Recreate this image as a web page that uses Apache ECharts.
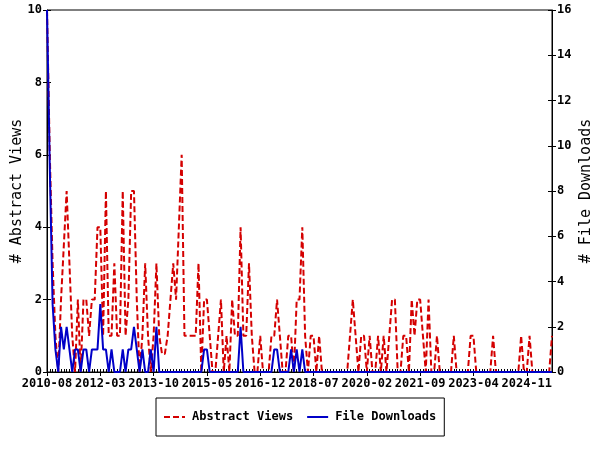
<!DOCTYPE html>
<html>
<head>
<meta charset="utf-8">
<script src="https://cdn.jsdelivr.net/npm/echarts@6/dist/echarts.min.js"></script>
<style>
html,body{margin:0;padding:0;background:#fff;}
#chart{width:600px;height:450px;}
</style>
</head>
<body>
<div id="chart"></div>
<script>
// Months from 2010-08 to 2025-08
var startYear = 2010, startMonth = 8, monthCount = 181;
var months = [];
for (var k = 0; k < monthCount; k++) {
  var m = startMonth - 1 + k;
  var y = startYear + Math.floor(m / 12);
  var mm = (m % 12) + 1;
  months.push(y + '-' + (mm < 10 ? '0' + mm : mm));
}

var abstractViews = [
  10, 6, 3, 1, 0, 2, 3.5, 5, 3, 1,
  0, 2, 0, 2, 2, 1, 2, 2, 4, 4,
  1, 5, 1, 1, 3, 1, 1, 5, 1, 2,
  5, 5, 2, 0, 1, 3, 1, 0, 1, 3,
  1, 0.5, 0.5, 1, 2, 3, 2, 4, 6, 1,
  1, 1, 1, 1, 3, 0, 2, 2, 1, 0,
  0, 1, 2, 0, 1, 0, 2, 1, 1, 4,
  1, 1, 3, 1, 0, 0, 1, 0, 0, 0,
  1, 1, 2, 1, 0, 0, 1, 1, 0, 2,
  2, 4, 1, 0, 1, 1, 0, 1, 0, 0,
  0, 0, 0, 0, 0, 0, 0, 0, 1, 2,
  1, 0, 1, 1, 0, 1, 0, 0, 1, 0,
  1, 0, 1, 2, 2, 0, 0, 1, 1, 0,
  2, 1, 2, 2, 1, 0, 2, 0, 0, 1,
  0, 0, 0, 0, 0, 1, 0, 0, 0, 0,
  0, 1, 1, 0, 0, 0, 0, 0, 0, 1,
  0, 0, 0, 0, 0, 0, 0, 0, 0, 1,
  0, 0, 1, 0, 0, 0, 0, 0, 0, 0,
  1
];

var fileDownloads = [
  16, 9, 3, 1, 0, 2, 1, 2, 1, 0,
  1, 1, 0, 1, 1, 0, 1, 1, 1, 3,
  1, 1, 0, 1, 0, 0, 0, 1, 0, 1,
  1, 2, 1, 0, 1, 0, 0, 1, 0, 2,
  0, 0, 0, 0, 0, 0, 0, 0, 0, 0,
  0, 0, 0, 0, 0, 0, 1, 1, 0, 0,
  0, 0, 0, 0, 0, 0, 0, 0, 0, 2,
  0, 0, 0, 0, 0, 0, 0, 0, 0, 0,
  0, 1, 1, 0, 0, 0, 0, 1, 0, 1,
  0, 1, 0, 0, 0, 0, 0, 0, 0, 0,
  0, 0, 0, 0, 0, 0, 0, 0, 0, 0,
  0, 0, 0, 0, 0, 0, 0, 0, 0, 0,
  0, 0, 0, 0, 0, 0, 0, 0, 0, 0,
  0, 0, 0, 0, 0, 0, 0, 0, 0, 0,
  0, 0, 0, 0, 0, 0, 0, 0, 0, 0,
  0, 0, 0, 0, 0, 0, 0, 0, 0, 0,
  0, 0, 0, 0, 0, 0, 0, 0, 0, 0,
  0, 0, 0, 0, 0, 0, 0, 0, 0, 0,
  0
];

var leftTicks = { min: 0, max: 10, interval: 2 };
var rightTicks = { min: 0, max: 16, interval: 2 };
var labelEvery = 19;

var MONO = '"DejaVu Sans Mono", "Liberation Mono", monospace';
var labelFont = { color: '#000', fontFamily: MONO, fontWeight: 'bold', fontSize: 12 };

var chart = echarts.init(document.getElementById('chart'), null, { renderer: 'canvas' });
chart.setOption({
  animation: false,
  backgroundColor: '#fff',
  grid: {
    left: 47, right: 48, top: 10, bottom: 78,
    containLabel: false, outerBoundsMode: 'none',
    show: true, borderColor: '#000', borderWidth: 1, backgroundColor: 'transparent'
  },
  legend: {
    left: 156, top: 398,
    padding: [13, 8, 13, 7],
    borderColor: '#000', borderWidth: 1,
    itemWidth: 21, itemHeight: 12, itemGap: 13,
    itemStyle: { color: 'rgba(0,0,0,0)', borderColor: 'rgba(0,0,0,0)', borderWidth: 0 },
    textStyle: { color: '#000', fontFamily: MONO, fontWeight: 'bold', fontSize: 12, padding: [0, 0, 0, 2] },
    data: ['Abstract Views', 'File Downloads']
  },
  xAxis: [
    {
      type: 'category', data: months, boundaryGap: false, position: 'bottom',
      axisLine: { show: true, lineStyle: { color: '#000', width: 1 } },
      axisTick: { show: true, interval: 0, inside: true, length: 3, lineStyle: { color: '#000' } },
      axisLabel: { show: false },
      splitLine: { show: false }
    },
    {
      type: 'category', data: months, boundaryGap: false, position: 'bottom',
      axisLine: { show: false },
      axisTick: { show: true, interval: labelEvery - 1, inside: false, length: 4, lineStyle: { color: '#000' } },
      axisLabel: Object.assign({ show: true, interval: labelEvery - 1, margin: 6, hideOverlap: false }, labelFont),
      splitLine: { show: false }
    }
  ],
  yAxis: [
    {
      type: 'value', position: 'left', min: leftTicks.min, max: leftTicks.max, interval: leftTicks.interval,
      name: '# Abstract Views', nameLocation: 'middle', nameRotate: 90, nameGap: 22, nameMoveOverlap: false,
      nameTextStyle: { color: '#000', fontFamily: MONO, fontSize: 15 },
      axisLine: { show: true, lineStyle: { color: '#000' } },
      axisTick: { show: true, inside: false, length: 4, lineStyle: { color: '#000' } },
      axisLabel: Object.assign({ margin: 5 }, labelFont),
      splitLine: { show: false }
    },
    {
      type: 'value', position: 'right', min: rightTicks.min, max: rightTicks.max, interval: rightTicks.interval,
      name: '# File Downloads', nameLocation: 'middle', nameRotate: 90, nameGap: 27, nameMoveOverlap: false,
      nameTextStyle: { color: '#000', fontFamily: MONO, fontSize: 15 },
      axisLine: { show: true, lineStyle: { color: '#000' } },
      axisTick: { show: true, inside: false, length: 4, lineStyle: { color: '#000' } },
      axisLabel: Object.assign({ margin: 5 }, labelFont),
      splitLine: { show: false }
    },
    {
      type: 'value', position: 'left', min: leftTicks.min, max: leftTicks.max, interval: leftTicks.interval,
      axisLine: { show: false },
      axisTick: { show: true, inside: true, length: 4, lineStyle: { color: '#000' } },
      axisLabel: { show: false }, splitLine: { show: false }
    },
    {
      type: 'value', position: 'right', min: rightTicks.min, max: rightTicks.max, interval: rightTicks.interval,
      axisLine: { show: false },
      axisTick: { show: true, inside: true, length: 4, lineStyle: { color: '#000' } },
      axisLabel: { show: false }, splitLine: { show: false }
    }
  ],
  series: [
    {
      name: 'Abstract Views', type: 'line', xAxisIndex: 0, yAxisIndex: 0,
      data: abstractViews, symbol: 'none', showSymbol: false,
      itemStyle: { color: '#d40000' },
      lineStyle: { color: '#d40000', width: 2, type: [6, 3] }
    },
    {
      name: 'File Downloads', type: 'line', xAxisIndex: 0, yAxisIndex: 1,
      data: fileDownloads, symbol: 'none', showSymbol: false,
      itemStyle: { color: '#0000c8' },
      lineStyle: { color: '#0000c8', width: 2, type: 'solid' }
    }
  ]
});
</script>
</body>
</html>
